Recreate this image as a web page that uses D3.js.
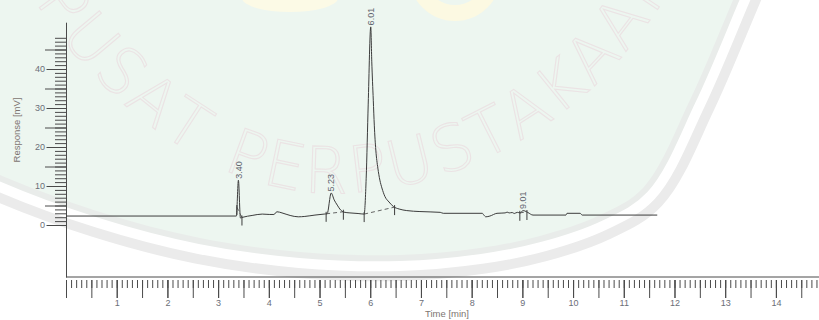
<!DOCTYPE html>
<html>
<head>
<meta charset="utf-8">
<script src="https://cdn.jsdelivr.net/npm/d3@7/dist/d3.min.js"></script>
<style>
  body { margin: 0; background: #fff; }
  svg { display: block; }
  text { font-family: "Liberation Sans", Arial, sans-serif; }
</style>
</head>
<body>
<svg id="chart" width="819" height="320"></svg>
<script>
// chromatogram trace: time [min] / response [mV]
const times = [0, 3.36, 3.40, 3.44, 3.49, 3.67, 3.87, 4.02, 4.10, 4.16, 4.26, 4.42, 4.58, 4.71, 4.91, 5.09, 5.15,
  5.23, 5.29, 5.35, 5.40, 5.48, 5.60, 5.76, 5.88, 5.92, 5.96, 6.01, 6.03, 6.06, 6.08, 6.11, 6.15, 6.19, 6.23,
  6.29, 6.37, 6.46, 6.57, 6.72, 6.98, 7.38, 7.44, 8.21, 8.24, 8.28, 8.36, 8.50, 8.66, 8.70, 8.74, 8.80, 8.84,
  8.90, 8.96, 9.01, 9.05, 9.11, 9.21, 9.86, 9.88, 10.14, 10.18, 11.66];
const responses = [2.3, 2.3, 11.5, 1.8, 2.0, 2.45, 2.8, 2.7, 2.7, 3.4, 3.1, 2.45, 2.1, 2.2, 2.55, 2.8, 2.9,
  8.2, 6.4, 5.1, 4.1, 3.3, 3.1, 2.95, 2.8, 12, 31, 50.8, 42, 32, 25.6, 19.2, 14.6, 11.5, 9.5,
  7.3, 5.9, 4.7, 4.1, 3.7, 3.45, 3.25, 3.0, 3.0, 2.56, 2.1, 2.3, 3.0, 3.1, 3.3, 3.1, 3.2, 2.95,
  3.25, 3.1, 3.7, 3.6, 3.2, 2.55, 2.55, 3.0, 3.0, 2.55, 2.55];

// peak annotations
const peakTimes = [3.40, 5.23, 6.01, 9.01];
const peakLabels = ["3.40", "5.23", "6.01", "9.01"];
// integration start / end of each peak
const integStart = [3.37, 5.13, 5.88, 8.95];
const integEnd = [3.47, 5.47, 6.48, 9.09];

// axis labels
const xLabels = [1, 2, 3, 4, 5, 6, 7, 8, 9, 10, 11, 12, 13, 14];
const yLabels = [0, 10, 20, 30, 40];

const svg = d3.select("#chart");

// ---- library watermark in the background ----
const wm = svg.append("g");
const edge = [[-30, 160], [0, 175], [100, 212], [200, 238], [300, 252], [400, 255], [480, 248],
  [540, 236], [600, 215], [643, 188], [690, 100], [733, 0], [752, -45]];
const edgePath = d3.line().curve(d3.curveCatmullRom)(edge);
wm.append("path").attr("d", edgePath).attr("fill", "none").attr("stroke", "#ebebeb").attr("stroke-width", 52);
wm.append("path").attr("d", edgePath).attr("fill", "none").attr("stroke", "#fff").attr("stroke-width", 32);
wm.append("path").attr("d", edgePath).attr("fill", "none").attr("stroke", "#e9ecea").attr("stroke-width", 12);
wm.append("path").attr("d", edgePath + "L-30,-60Z").attr("fill", "#edf6f0");
wm.append("ellipse").attr("cx", 290).attr("cy", -2).attr("rx", 48).attr("ry", 14).attr("fill", "#fcfae6");
wm.append("circle").attr("cx", 455).attr("cy", -25).attr("r", 38)
  .attr("fill", "none").attr("stroke", "#fcf9e2").attr("stroke-width", 16);

// watermark letters set one by one along an arc
const textArc = [[20, -20], [80, 60], [150, 125], [230, 172], [310, 192], [390, 188], [470, 165],
  [540, 128], [600, 80], [650, 20], [690, -40]];
const arc = wm.append("path").attr("d", d3.line().curve(d3.curveCatmullRom)(textArc))
  .attr("fill", "none").node();
let pos = 26;
for (const ch of "PUSAT PERPUSTAKAAN") {
  if (ch === " ") { pos += 30; continue; }
  const t = wm.append("text")
    .style("font-family", "'DejaVu Sans', sans-serif")
    .attr("font-size", 64).attr("font-weight", 200).attr("text-anchor", "middle")
    .attr("fill", "none").attr("stroke", "#ebe3e4").attr("stroke-width", 1.1)
    .text(ch);
  const w = t.node().getComputedTextLength();
  const mid = pos + w / 2;
  const p = arc.getPointAtLength(mid);
  const a = arc.getPointAtLength(mid - 1), b = arc.getPointAtLength(mid + 1);
  const ang = Math.atan2(b.y - a.y, b.x - a.x) * 180 / Math.PI;
  t.attr("transform", `translate(${p.x},${p.y}) rotate(${ang})`);
  pos += w + 3;
}

// ---- scales ----
const x = d3.scaleLinear().domain([0, 14.85]).range([66, 819]);
const y = d3.scaleLinear().domain([-13.33, 52]).range([277, 22.2]);

const axisColor = "#4a4a4a";
const labelColor = "#6b6e78";

// y axis: minor (1 mV), medium (5 mV) and labelled (10 mV) ticks
const yMinor = svg.append("g").attr("transform", "translate(66,0)")
  .call(d3.axisLeft(y).tickValues(d3.range(0, 49)).tickSize(11).tickSizeOuter(0).tickFormat(""));
const yMid = svg.append("g").attr("transform", "translate(66,0)")
  .call(d3.axisLeft(y).tickValues([5, 15, 25, 35, 45]).tickSize(21).tickFormat(""));
const yMajor = svg.append("g").attr("transform", "translate(66,0)")
  .call(d3.axisLeft(y).tickValues(yLabels).tickSize(19.5).tickPadding(1.5));
[yMid, yMajor].forEach(g => g.select(".domain").remove());
[yMinor, yMid].forEach(g => g.selectAll("text").remove());

// x axis: line, then ticks hanging a little below it
svg.append("line").attr("x1", x(0)).attr("x2", x(14.85)).attr("y1", y(-13.33)).attr("y2", y(-13.33))
  .attr("stroke", axisColor);
const xMinor = svg.append("g").attr("transform", "translate(0,280)")
  .call(d3.axisBottom(x).tickValues(d3.range(0, 149).map(i => i / 10)).tickSize(8).tickFormat(""));
const xHalf = svg.append("g").attr("transform", "translate(0,280)")
  .call(d3.axisBottom(x).tickValues(d3.range(0, 30).map(i => i / 2)).tickSize(18).tickFormat(""));
const xMajor = svg.append("g").attr("transform", "translate(0,280)")
  .call(d3.axisBottom(x).tickValues(xLabels).tickSize(18).tickPadding(2));
[xMinor, xHalf, xMajor].forEach(g => g.select(".domain").remove());
[xMinor, xHalf].forEach(g => g.selectAll("text").remove());

svg.selectAll(".tick line").attr("stroke", axisColor);
svg.selectAll(".domain").attr("stroke", axisColor);
svg.selectAll(".tick text").attr("fill", labelColor).attr("font-size", 9)
  .style("font-family", "'Liberation Sans', Arial, sans-serif");

// axis titles
svg.append("text").attr("transform", "translate(17,130) rotate(-90)")
  .attr("text-anchor", "middle").attr("dy", "0.35em")
  .attr("font-size", 9.5).attr("fill", "#7d7470").text("Response [mV]");
svg.append("text").attr("x", 447).attr("y", 317)
  .attr("text-anchor", "middle").attr("font-size", 9.5).attr("fill", "#7d7470").text("Time [min]");

// ---- trace ----
const trace = times.map((t, i) => [t, responses[i]]);
svg.append("path").datum(trace)
  .attr("fill", "none").attr("stroke", "#3c3c3c").attr("stroke-width", 1)
  .attr("d", d3.line().x(d => x(d[0])).y(d => y(d[1])).curve(d3.curveMonotoneX));

const bis = d3.bisector(d => d[0]).left;
function valueAt(t) {
  const i = Math.max(1, Math.min(trace.length - 1, bis(trace, t)));
  const a = trace[i - 1], b = trace[i];
  return a[1] + (b[1] - a[1]) * (t - a[0]) / (b[0] - a[0]);
}

// integration baselines (dashed) and start/end markers
svg.append("g").selectAll("line").data(integStart).join("line")
  .attr("x1", d => x(d)).attr("y1", d => y(valueAt(d)))
  .attr("x2", (d, i) => x(integEnd[i])).attr("y2", (d, i) => y(valueAt(integEnd[i])))
  .attr("stroke", "#555").attr("stroke-width", 0.9).attr("stroke-dasharray", "4,3");
svg.append("g").selectAll("line").data(integStart.concat(integEnd)).join("line")
  .attr("x1", d => x(d)).attr("x2", d => x(d))
  .attr("y1", d => y(valueAt(d)) - 2).attr("y2", d => y(valueAt(d)) + 8)
  .attr("stroke", "#3c3c3c").attr("stroke-width", 1);

// retention time labels above each apex
svg.append("g").selectAll("text").data(peakTimes).join("text")
  .attr("transform", d => {
    const apex = d3.max(trace.filter(p => Math.abs(p[0] - d) < 0.05), p => p[1]);
    return `translate(${x(d)},${y(apex) - 1.5}) rotate(-90)`;
  })
  .attr("dy", "0.35em").attr("font-size", 9).attr("fill", "#5f636e")
  .text((d, i) => peakLabels[i]);
</script>
</body>
</html>
